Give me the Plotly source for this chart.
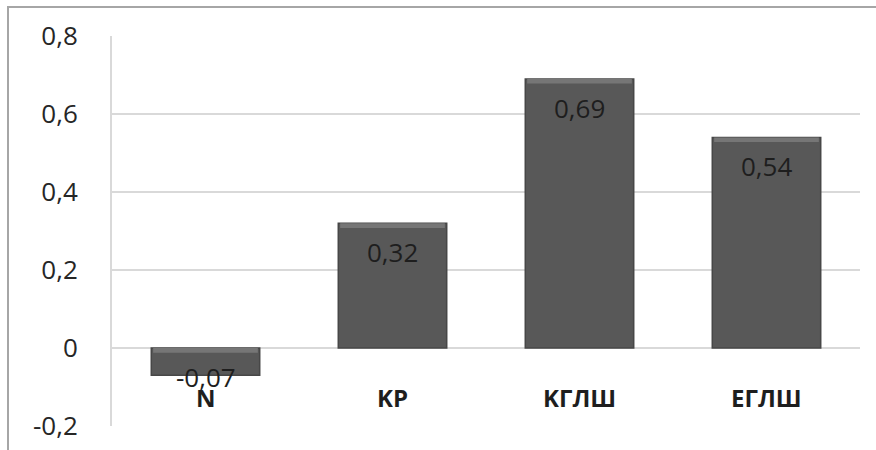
import plotly.graph_objects as go

# Data
categories = ["N", "KP", "KГЛШ", "EГЛШ"]
values = [-0.07, 0.32, 0.69, 0.54]
tick_vals = [-0.2, 0, 0.2, 0.4, 0.6, 0.8]
tick_text = ["-0,2", "0", "0,2", "0,4", "0,6", "0,8"]

# Layout geometry (pixels)
W, H = 876, 450
ML, MR, MT, MB = 112, 16, 36, 24
PW, PH = W - ML - MR, H - MT - MB

BAR_COLOR = "#585858"
BEVEL_COLOR = "#767676"
BAR_WIDTH = 0.58
bevel = 0.012  # thickness of the lighter top strip, in data units


def fmt(v):
    return f"{v:.2f}".replace(".", ",")


fig = go.Figure()

# main bars
fig.add_trace(go.Bar(
    x=categories, y=values, width=BAR_WIDTH,
    marker=dict(color=BAR_COLOR, line=dict(color="#474747", width=1.5)),
    hoverinfo="skip",
))

# lighter bevel strip along the top edge of each bar
tops = [max(v, 0) for v in values]
fig.add_trace(go.Bar(
    x=categories, y=[bevel] * len(values), base=[t - bevel for t in tops],
    width=BAR_WIDTH - 0.02,
    marker=dict(color=BEVEL_COLOR, line=dict(width=0)),
    hoverinfo="skip",
))

annotations = []
# value labels inside the bar ends
for c, v in zip(categories, values):
    annotations.append(dict(
        x=c, y=v, xref="x", yref="y", text=fmt(v), showarrow=False,
        yshift=-29 if v > 0 else -2,
        font=dict(family="Open Sans", size=26, color="#1e1e1e"),
    ))
# category labels near the zero line
for c in categories:
    annotations.append(dict(
        x=c, y=-0.126, xref="x", yref="y", text=f"<b>{c}</b>", showarrow=False,
        font=dict(family="Open Sans", size=24, color="#1e1e1e"),
    ))

# outer chart frame
fx0 = (8 - ML) / PW
fx1 = (W + 4 - ML) / PW
fy1 = (H - 7 - MB) / PH
fy0 = (-10 - MB) / PH

fig.update_layout(
    width=W, height=H,
    margin=dict(l=ML, r=MR, t=MT, b=MB),
    paper_bgcolor="white", plot_bgcolor="white",
    barmode="overlay", showlegend=False,
    xaxis=dict(showticklabels=False, showgrid=False, zeroline=False,
               showline=False, ticks="", fixedrange=True, automargin=False),
    yaxis=dict(range=[-0.2, 0.8], tickvals=tick_vals, ticktext=tick_text,
               showgrid=True, gridcolor="#d9d9d9", gridwidth=2,
               zeroline=False, showline=True, linecolor="#d9d9d9", linewidth=2,
               ticks="", ticklabelstandoff=27, automargin=False,
               tickfont=dict(family="Open Sans", size=26, color="#262626")),
    annotations=annotations,
    shapes=[dict(type="rect", xref="paper", yref="paper",
                 x0=fx0, x1=fx1, y0=fy0, y1=fy1,
                 line=dict(color="#a6a6a6", width=2), layer="below")],
)

fig.write_html("out.html")
